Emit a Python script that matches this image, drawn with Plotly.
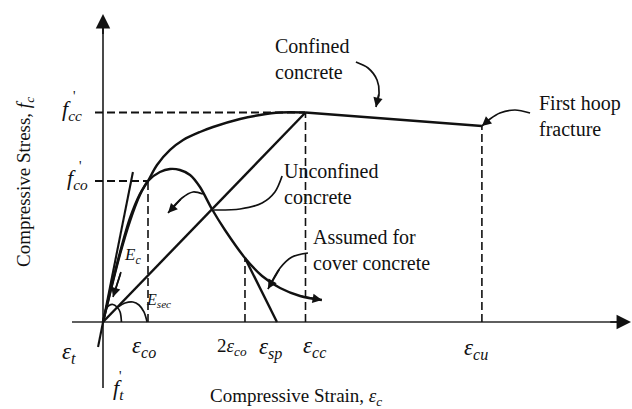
import plotly.graph_objects as go

# ---- schematic values (strain in per-mille, stress in MPa) ----
eps_co, eps_2co, eps_sp, eps_cc, eps_cu = 2.0, 6.31, 7.73, 9.0, 16.84
f_co, f_cc, f_cu, f_2co = 30.0, 44.57, 41.70, 13.62
eps_t, f_t = -0.22, -5.32
ec_top_eps, ec_top_f = 1.33, 31.91

conf_eps = [0, 0.36, 0.76, 1.2, 1.64, 2.0, 2.4, 2.98, 3.56, 4.31, 4.89, 6.09, 6.98, 7.87, 9.0]
conf_f = [0, 7.23, 14.89, 22.13, 27.23, 30.0, 33.4, 36.6, 38.72, 40.43, 41.49, 43.19, 44.04, 44.57, 44.57]

unc_eps = [0, 0.36, 0.76, 1.2, 1.64, 2.0, 2.53, 2.98, 3.42, 3.87, 4.31, 4.84, 5.42, 6.31,
           7.07, 7.87, 8.76, 9.73]
unc_f = [0, 7.02, 14.47, 21.49, 27.02, 30.0, 31.91, 32.55, 32.34, 31.28, 28.72, 24.04, 19.57, 13.62,
         9.79, 7.23, 5.53, 4.68]

arc_c_eps = [0.13, 0.27, 0.44, 0.62, 0.76, 0.82]
arc_c_f = [2.77, 3.51, 3.72, 3.19, 2.13, 0]
arc_s_eps = [0.67, 0.98, 1.33, 1.6, 1.82, 1.96]
arc_s_f = [3.19, 4.04, 4.26, 3.62, 2.13, 0]

lead_conf = ([11.24, 11.78, 12.18, 12.27, 12.13], [55.32, 54.04, 51.49, 48.72, 45.74])
lead_hoop = ([18.98, 18.31, 17.64, 17.2, 16.84], [44.47, 45.11, 44.47, 43.19, 41.70])
lead_unc1 = ([7.96, 7.64, 7.07, 6.09, 4.93], [31.06, 27.66, 25.32, 24.04, 23.83])
lead_unc2 = ([4.44, 4.0, 3.51, 2.89], [27.23, 27.66, 26.38, 23.19])
lead_cover = ([9.11, 8.4, 7.87, 7.33], [14.68, 13.83, 11.49, 7.02])

SX, SY, OX, OY = 22.5, 4.7, 103, 322
W, H = 632, 409


def P(px, py):
    return (px - OX) / SX, (OY - py) / SY


INK = "#111111"
FONT = "Liberation Serif"

fig = go.Figure()


def line(xs, ys, width=2.4, dash=None, shape="linear", color=INK):
    fig.add_trace(go.Scatter(x=xs, y=ys, mode="lines", hoverinfo="skip",
                             line=dict(color=color, width=width, dash=dash, shape=shape,
                                       smoothing=0.9)))


# axes
ax0, _ = P(72, 0)
ax1, _ = P(620, 0)
_, ay0 = P(0, 388)
_, ay1 = P(0, 26)
line([ax0, ax1], [0, 0], width=1.7, color="#2a2a2a")
line([0, 0], [ay0, ay1], width=1.7, color="#2a2a2a")

# dashed guides
dash = "8px,4px"
gx0, _ = P(95, 0)
line([gx0, eps_cc], [f_cc, f_cc], width=1.8, dash=dash)
line([gx0, eps_co], [f_co, f_co], width=1.8, dash=dash)
line([eps_co, eps_co], [0, f_co], width=1.6, dash=dash)
line([eps_2co, eps_2co], [0, f_2co], width=1.6, dash=dash)
line([eps_cc, eps_cc], [0, f_cc], width=1.6, dash=dash)
line([eps_cu, eps_cu], [0, f_cu], width=1.6, dash=dash)

# curves
line(conf_eps, conf_f, shape="spline")
line([eps_cc, eps_cu], [f_cc, f_cu])
line(unc_eps, unc_f, shape="spline")
line([eps_2co, eps_sp], [f_2co, 0])
line([0, eps_cc], [0, f_cc])
line([eps_t, ec_top_eps], [f_t, ec_top_f], width=2.1)
line(arc_c_eps, arc_c_f, width=1.7, shape="spline")
line(arc_s_eps, arc_s_f, width=1.7, shape="spline")

for xs, ys in [lead_conf, lead_hoop, lead_unc1, lead_unc2, lead_cover]:
    line(xs, ys, width=1.7, shape="spline")

annotations = []


def arrow(head, tail, size=1.0, width=1.7):
    annotations.append(dict(x=head[0], y=head[1], ax=tail[0], ay=tail[1], xref="x", yref="y",
                            axref="x", ayref="y", text="", showarrow=True, arrowhead=2,
                            arrowsize=size, arrowwidth=width, arrowcolor=INK, standoff=0))


def head_of(lead):
    xs, ys = lead
    return (xs[-1], ys[-1]), (xs[-2], ys[-2])


arrow((P(631, 0)[0], 0), (ax1 - 0.5, 0), size=1.7, width=1.7)
arrow((0, P(0, 14)[1]), (0, ay1 - 2.0), size=1.7, width=1.7)
for ld in [lead_conf, lead_hoop, lead_unc2, lead_cover]:
    h, t = head_of(ld)
    arrow(h, t, size=1.1)
arrow((unc_eps[-1], unc_f[-1]), (unc_eps[-2], unc_f[-2]), size=1.1)
ec_tail = P(121, 272)
ec_head = P(113, 297)
line([ec_tail[0], ec_head[0]], [ec_tail[1], ec_head[1]], width=1.6)
arrow(ec_head, ec_tail, size=1.1)


def text(px, py, s, size=20, xanchor="center", align="center", textangle=0):
    x, y = P(px, py)
    annotations.append(dict(x=x, y=y, xref="x", yref="y", text=s, showarrow=False,
                            xanchor=xanchor, yanchor="middle", align=align, textangle=textangle,
                            font=dict(family=FONT, size=size, color=INK)))


text(273, 59, "Confined<br>concrete", xanchor="left", align="left")
text(537, 116, "First hoop<br>fracture", xanchor="left", align="left")
text(282, 184, "Unconfined<br>concrete", xanchor="left", align="left")
text(311, 250, "Assumed for<br>cover concrete", xanchor="left", align="left")

text(296, 397, "Compressive Strain, <i>ε</i><sub><i>c</i></sub>", size=19)
text(25, 182, "Compressive Stress, <i>f</i><sub><i>c</i></sub>", size=19, textangle=-90)

text(72, 110, "<i>f</i><sub><i>cc</i></sub>", size=22)
text(74, 96, "'", size=14)
text(77, 179, "<i>f</i><sub><i>co</i></sub>", size=22)
text(80, 166, "'", size=14)
text(118, 389, "<i>f</i><sub><i>t</i></sub>", size=22)
text(120, 376, "'", size=14)

text(69, 353, "<i>ε</i><sub><i>t</i></sub>", size=23)
text(144, 347, "<i>ε</i><sub><i>co</i></sub>", size=23)
text(232, 347, "2<i>ε</i><sub><i>co</i></sub>", size=19)
text(270, 348, "<i>ε</i><sub><i>sp</i></sub>", size=23)
text(314, 347, "<i>ε</i><sub><i>cc</i></sub>", size=23)
text(476, 349, "<i>ε</i><sub><i>cu</i></sub>", size=23)

text(132, 256, "<i>E</i><sub><i>c</i></sub>", size=17)
text(158, 300, "<i>E</i><sub><i>sec</i></sub>", size=16)

x_lo, y_hi = P(0, 0)
x_hi, y_lo = P(W, H)
fig.update_layout(
    width=W, height=H, margin=dict(l=0, r=0, t=0, b=0, pad=0),
    paper_bgcolor="white", plot_bgcolor="white", showlegend=False,
    xaxis=dict(range=[x_lo, x_hi], visible=False, fixedrange=True),
    yaxis=dict(range=[y_lo, y_hi], visible=False, fixedrange=True),
    annotations=annotations,
)
fig.write_html("out.html", config={"displayModeBar": False})
